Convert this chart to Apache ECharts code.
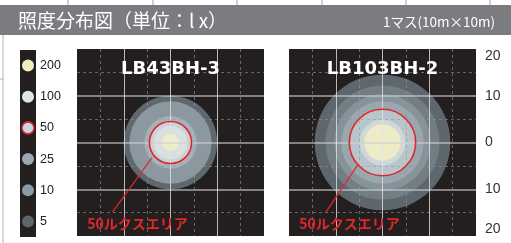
<!DOCTYPE html>
<html>
<head>
<meta charset="utf-8">
<script src="https://cdn.jsdelivr.net/npm/echarts@6/dist/echarts.min.js"></script>
<style>
  html, body { margin: 0; padding: 0; background: #fff; }
  #chart { width: 511px; height: 243px; }
</style>
</head>
<body>
<div id="chart"></div>
<script>
// 凡例 (lx)
const levels = ['5', '10', '25', '50', '100', '200']
const levelColors = ['#5d656c', '#8b9aa4', '#9ba7b1', '#c8d8e0', '#dfe6e6', '#f2eec2']

// 等照度線の半径 (m) 外側から
const ringsA = [10.0, 8.8, 5.6, 4.5, 3.6, 1.8]
const colorsA = ['#5f686f', '#8c98a0', '#a6b2b9', '#c7d3d8', '#dae0e0', '#efedc8']
const redA = 4.5

const ringsB = [14.5, 12.2, 10.3, 8.8, 7.1, 4.9, 3.9]
const colorsB = ['#5e676e', '#737d84', '#87939a', '#9ba7ae', '#b8c5cb', '#cfd7d8', '#eeebc9']
const redB = 7.1

const models = ['LB43BH-3', 'LB103BH-2']
// 引出線 [x1, y1, x2, y2] (m)
const leaderA = [-12.4, -14.9, -4.0, -3.3]
const leaderB = [-12.1, -14.9, -5.3, -4.8]
const noteText = '50ルクスエリア'
const notePos = [-17.8, -17.4]
const titleY = 15.7

const CJK = "'Noto Sans CJK JP', sans-serif"
const RED = '#e3262c'

const chart = echarts.init(document.getElementById('chart'))

const ringItem = (params, api) => {
  const c = api.coord([api.value(0), api.value(1)])
  const r = api.size([api.value(2), 0])[0]
  return {
    type: 'circle',
    shape: { cx: c[0], cy: c[1], r },
    style: { fill: api.visual('color') }
  }
}

const redItem = (params, api) => {
  const c = api.coord([api.value(0), api.value(1)])
  const r = api.size([api.value(2), 0])[0]
  return {
    type: 'circle',
    shape: { cx: c[0], cy: c[1], r },
    style: { fill: 'none', stroke: RED, lineWidth: 1.6 }
  }
}

const noteItem = (idx) => (params, api) => {
  const a = api.coord([api.value(0), api.value(1)])
  const b = api.coord([api.value(2), api.value(3)])
  const t = api.coord([api.value(4), api.value(5)])
  const m = api.coord([0, api.value(6)])
  return {
    type: 'group',
    children: [
      { type: 'line', shape: { x1: a[0], y1: a[1], x2: b[0], y2: b[1] }, style: { stroke: RED, lineWidth: 1.2 } },
      { type: 'text', x: t[0], y: t[1], style: { text: noteText, fill: RED, font: 'bold 14px ' + CJK, textAlign: 'left', textVerticalAlign: 'middle' } },
      { type: 'text', x: m[0], y: m[1], style: { text: models[idx], fill: '#fff', font: 'bold 18px "DejaVu Sans"', textAlign: 'center', textVerticalAlign: 'middle' } }
    ]
  }
}

const panelAxis = (i, isY, showLabel) => ({
  type: 'value',
  gridIndex: i,
  min: -20,
  max: 20,
  interval: 10,
  z: 3,
  position: isY ? 'right' : 'bottom',
  axisLine: { show: false },
  axisTick: { show: false },
  axisLabel: showLabel ? {
    show: true,
    margin: 9,
    color: '#333',
    fontSize: 14,
    fontFamily: "'Liberation Sans Narrow', 'Liberation Sans'",
    formatter: v => String(Math.abs(v)),
    verticalAlignMinLabel: 'bottom',
    verticalAlignMaxLabel: 'top'
  } : { show: false },
  splitLine: {
    show: true,
    showMinLine: false,
    showMaxLine: false,
    lineStyle: { color: isY ? 'rgba(210,210,210,0.75)' : 'rgba(225,225,225,0.8)', width: isY ? 1.5 : 1 }
  },
  minorTick: { show: false, splitNumber: 2 },
  minorSplitLine: { show: true, lineStyle: { color: 'rgba(150,150,150,0.6)', type: [3, 3], width: 1 } }
})

const panelGrid = left => ({
  left, top: 49, width: 187, height: 187,
  show: true, backgroundColor: '#221f1e', borderWidth: 0
})

const topTicks = [68, 153, 237, 322, 406, 490].map(x => ({
  type: 'line', shape: { x1: x, y1: 0, x2: x, y2: 5 }, style: { stroke: '#a0a0a0', lineWidth: 1 }
}))

chart.setOption({
  animation: false,
  graphic: [
    ...topTicks,
    { type: 'rect', shape: { x: 0, y: 5, width: 511, height: 30 }, style: { fill: '#7b7c80' } },
    { type: 'line', shape: { x1: 3, y1: 35, x2: 3, y2: 243 }, style: { stroke: '#b0b0b0', lineWidth: 1 } },
    { type: 'line', shape: { x1: 0, y1: 79, x2: 3, y2: 79 }, style: { stroke: '#b0b0b0', lineWidth: 1 } },
    { type: 'text', x: 18, y: 21, style: { text: '照度分布図（単位：l x）', fill: '#fff', font: '19px ' + CJK, textVerticalAlign: 'middle' } },
    { type: 'text', x: 495, y: 22, style: { text: '1マス(10m×10m)', fill: '#fff', font: '13.5px ' + CJK, textAlign: 'right', textVerticalAlign: 'middle' } }
  ],
  grid: [
    { left: 20, top: 50, width: 16, height: 187, show: true, backgroundColor: '#231f1e', borderWidth: 0 },
    panelGrid(77),
    panelGrid(289)
  ],
  xAxis: [
    { type: 'value', gridIndex: 0, min: 0, max: 1, show: false },
    panelAxis(1, false, false),
    panelAxis(2, false, false)
  ],
  yAxis: [
    {
      type: 'category',
      gridIndex: 0,
      data: levels,
      position: 'right',
      axisLine: { show: false },
      axisTick: { show: false },
      axisLabel: { margin: 4, color: '#222', fontSize: 12.5, fontFamily: "'Liberation Sans'" }
    },
    panelAxis(1, true, false),
    panelAxis(2, true, true)
  ],
  series: [
    {
      type: 'scatter',
      xAxisIndex: 0,
      yAxisIndex: 0,
      symbolSize: 12,
      data: levels.map((l, i) => ({
        value: [0.5, l],
        itemStyle: l === '50'
          ? { color: levelColors[i], opacity: 1, borderColor: RED, borderWidth: 1.6 }
          : { color: levelColors[i], opacity: 1 }
      }))
    },
    {
      type: 'custom', xAxisIndex: 1, yAxisIndex: 1, z: 2,
      renderItem: ringItem,
      data: ringsA.map((r, i) => ({ value: [0, 0, r], itemStyle: { color: colorsA[i] } }))
    },
    {
      type: 'custom', xAxisIndex: 2, yAxisIndex: 2, z: 2,
      renderItem: ringItem,
      data: ringsB.map((r, i) => ({ value: [0, 0, r], itemStyle: { color: colorsB[i] } }))
    },
    { type: 'custom', xAxisIndex: 1, yAxisIndex: 1, z: 5, renderItem: redItem, data: [[0, 0, redA]] },
    { type: 'custom', xAxisIndex: 2, yAxisIndex: 2, z: 5, renderItem: redItem, data: [[0, 0, redB]] },
    {
      type: 'custom', xAxisIndex: 1, yAxisIndex: 1, z: 6, renderItem: noteItem(0),
      data: [[...leaderA, ...notePos, titleY]]
    },
    {
      type: 'custom', xAxisIndex: 2, yAxisIndex: 2, z: 6, renderItem: noteItem(1),
      data: [[...leaderB, ...notePos, titleY]]
    }
  ]
})
</script>
</body>
</html>
